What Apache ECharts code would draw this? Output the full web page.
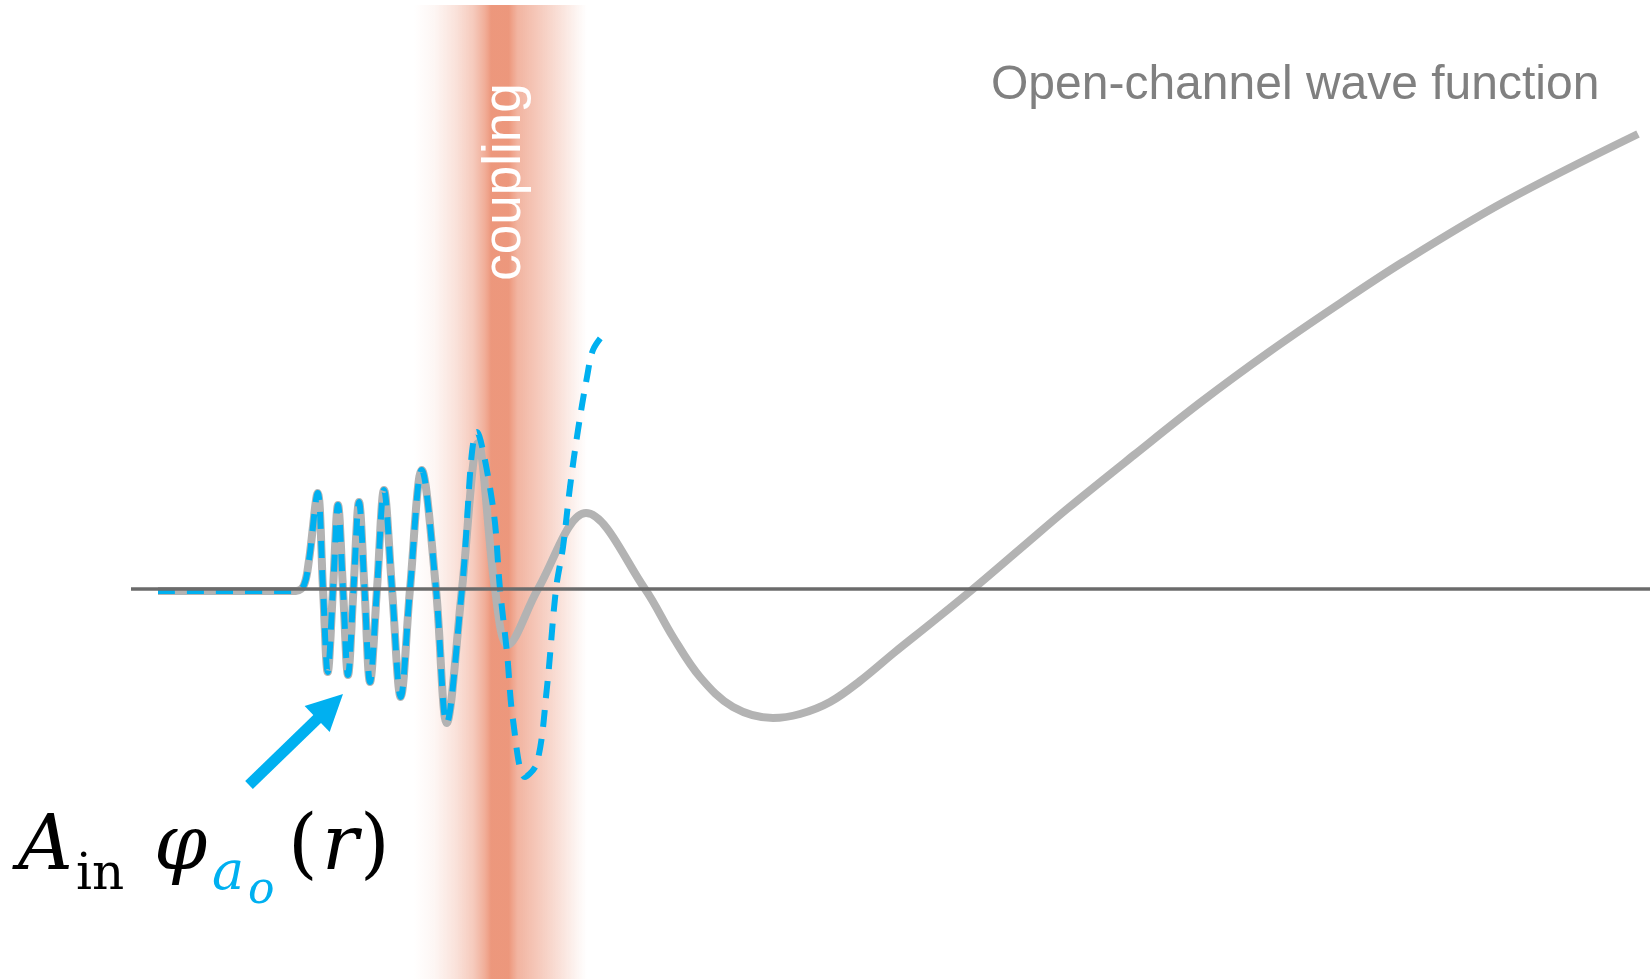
<!DOCTYPE html>
<html>
<head>
<meta charset="utf-8">
<title>Open-channel wave function</title>
<script src="https://cdn.jsdelivr.net/npm/echarts@6/dist/echarts.min.js"></script>
<style>
  html, body { margin: 0; padding: 0; background: #fff; }
  #chart { width: 1650px; height: 979px; }
</style>
</head>
<body>
<div id="chart"></div>
<script>
  // open-channel wave (gray), x = radius, y = amplitude (0 = axis)
  let grayX = [158, 296, 304, 309, 317.7, 323, 327.7, 333, 338, 343, 348, 353.5, 359, 364.5, 370, 377, 384, 392, 400.7, 410,
    421.7, 436, 446.7, 462, 478, 495, 507.7, 538, 586, 645, 673, 700, 733, 773, 800, 830, 860, 895, 930, 973,
    1020, 1067, 1134, 1201, 1269, 1336, 1403, 1504, 1638]
  let grayY = [-2, -2, 4, 29, 96, 0, -83, 0, 84, 0, -86, 0, 87, 0, -93, 0, 99, 0, -108, 0,
    119, 0, -134, 0, 146, 0, -56, 0, 76, 0, -48, -88, -118, -129, -125, -113, -92, -63, -35, 0,
    40, 80, 134, 187, 237, 283, 327, 387, 455]

  // incoming closed-channel part A_in phi (blue dashed)
  let blueX = [158, 296, 304, 309, 317.7, 323, 327.7, 333, 338, 343, 348, 353.5, 359, 364.5, 370, 377, 384, 392, 400.7, 410,
    421.7, 436, 446.7, 462, 477, 493, 500, 507, 513, 525, 537, 547, 556, 563, 570, 578, 587, 593, 603]
  let blueY = [-2, -2, 4, 29, 96, 0, -83, 0, 84, 0, -86, 0, 87, 0, -93, 0, 99, 0, -108, 0,
    119, 0, -134, 0, 157, 82, 0, -64, -131, -188, -174, -98, 0, 42, 102, 159, 212, 239, 254]

  let axisX = [131, 1650]
  let axisY = [0, 0]

  // coupling region
  let bandX = [413, 587]
  let bandY = [-390, 584]

  let arrowTail = [249, -196]
  let arrowTip = [343, -105]

  let xRange = [0, 1650]
  let yRange = [-390, 589]

  function pairs(xs, ys) {
    return xs.map((x, i) => [x, ys[i]])
  }

  let bandColor = 'rgba(236,148,120,'
  let bandStops = [
    [0, 0], [0.12, 0.08], [0.25, 0.28], [0.35, 0.5], [0.41, 0.75], [0.45, 0.97], [0.55, 0.97],
    [0.6, 0.7], [0.72, 0.5], [0.85, 0.27], [0.95, 0.08], [1, 0]
  ].map(s => ({offset: s[0], color: bandColor + s[1] + ')'}))

  let chart = echarts.init(document.getElementById('chart'))

  let option = {
    animation: false,
    grid: {left: 0, right: 0, top: 0, bottom: 0},
    xAxis: {type: 'value', min: xRange[0], max: xRange[1], show: false},
    yAxis: {type: 'value', min: yRange[0], max: yRange[1], show: false},
    series: [
      {
        type: 'custom',
        z: 0,
        silent: true,
        data: [[bandX[0], bandX[1], bandY[0], bandY[1]]],
        renderItem: function (params, api) {
          let p0 = api.coord([api.value(0), api.value(3)])
          let p1 = api.coord([api.value(1), api.value(2)])
          return {
            type: 'rect',
            shape: {x: p0[0], y: p0[1], width: p1[0] - p0[0], height: p1[1] - p0[1]},
            style: {fill: new echarts.graphic.LinearGradient(0, 0, 1, 0, bandStops)}
          }
        }
      },
      {
        type: 'line',
        z: 2,
        data: pairs(grayX, grayY),
        smooth: 0.35,
        showSymbol: false,
        lineStyle: {color: '#b3b3b3', width: 8}
      },
      {
        type: 'line',
        z: 3,
        data: pairs(blueX, blueY),
        smooth: 0.35,
        showSymbol: false,
        lineStyle: {color: '#00b0f0', width: 6, type: [17, 12]}
      },
      {
        type: 'line',
        z: 4,
        data: pairs(axisX, axisY),
        showSymbol: false,
        lineStyle: {color: '#6b6b6b', width: 3.5}
      }
    ]
  }
  chart.setOption(option)

  // annotations
  let tail = chart.convertToPixel({gridIndex: 0}, arrowTail)
  let tip = chart.convertToPixel({gridIndex: 0}, arrowTip)
  let dx = tip[0] - tail[0]
  let dy = tip[1] - tail[1]
  let len = Math.sqrt(dx * dx + dy * dy)
  let ux = dx / len
  let uy = dy / len
  let base = [tip[0] - ux * 36, tip[1] - uy * 36]
  let headL = [base[0] + uy * 18, base[1] - ux * 18]
  let headR = [base[0] - uy * 18, base[1] + ux * 18]

  let serif = '"DejaVu Serif", "Liberation Serif", serif'
  // text drawn on its middle line, baseline sits ~0.34 em lower
  function mathText(str, x, baseline, size, opts) {
    opts = opts || {}
    return {
      type: 'text',
      x: x,
      y: baseline - size * 0.34,
      z: 10,
      style: {
        text: str,
        fill: opts.color || '#000',
        font: (opts.italic ? 'italic ' : '') + size + 'px ' + serif,
        textAlign: 'left',
        textVerticalAlign: 'middle'
      }
    }
  }

  chart.setOption({
    graphic: [
      {
        type: 'text',
        x: 505,
        y: 182,
        rotation: Math.PI / 2,
        z: 5,
        style: {
          text: 'coupling',
          fill: '#ffffff',
          font: '53px "Liberation Sans", Arial, sans-serif',
          textAlign: 'center',
          textVerticalAlign: 'middle'
        }
      },
      {
        type: 'text',
        x: 991,
        y: 102 - 48 * 0.34,
        z: 5,
        style: {
          text: 'Open-channel wave function',
          fill: '#808080',
          font: '48px "Liberation Sans", Arial, sans-serif',
          textAlign: 'left',
          textVerticalAlign: 'middle'
        }
      },
      {
        type: 'polyline',
        z: 6,
        shape: {points: [tail, [base[0] + ux * 4, base[1] + uy * 4]]},
        style: {stroke: '#00b0f0', lineWidth: 11, fill: null}
      },
      {
        type: 'polygon',
        z: 6,
        shape: {points: [tip, headL, headR]},
        style: {fill: '#00b0f0'}
      },
      mathText('A', 18, 875, 76, {italic: true}),
      mathText('in', 76, 893, 50),
      mathText('φ', 154, 875, 76, {italic: true}),
      mathText('a', 212, 893, 54, {italic: true, color: '#00b0f0'}),
      mathText('o', 248, 907, 44, {italic: true, color: '#00b0f0'}),
      mathText('(', 288, 875, 76),
      mathText('r', 322, 875, 76, {italic: true}),
      mathText(')', 360, 875, 76)
    ]
  })
</script>
</body>
</html>
